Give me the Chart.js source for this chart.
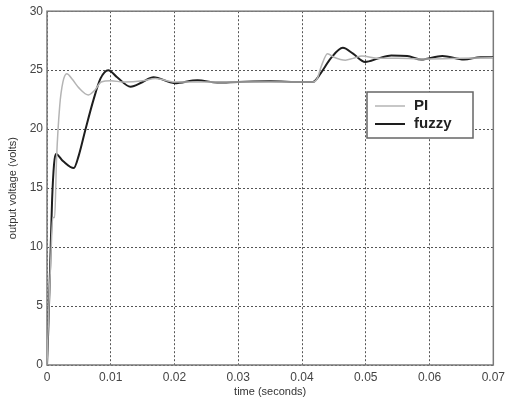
<!DOCTYPE html>
<html>
<head>
<meta charset="utf-8">
<script src="https://cdn.jsdelivr.net/npm/chart.js@4.4.1/dist/chart.umd.min.js"></script>
<style>
  html, body { margin: 0; padding: 0; background: #fff; }
  canvas { display: block; }
</style>
</head>
<body>
<canvas id="chart" width="510" height="406"></canvas>
<script>
// step response samples, time in seconds, output in volts
const piTime = [0, 0.0003, 0.0006, 0.0009, 0.0012, 0.0015, 0.002, 0.0025, 0.0031, 0.004, 0.005, 0.0065, 0.0075, 0.0085, 0.01, 0.012, 0.015, 0.017, 0.02, 0.025, 0.03, 0.035, 0.04, 0.0418, 0.0424, 0.043, 0.044, 0.045, 0.0468, 0.048, 0.0494, 0.052, 0.055, 0.06, 0.065, 0.07];
const piVolt = [0, 5, 9, 12.5, 12.5, 17.5, 22, 24, 24.7, 24.2, 23.5, 22.9, 23.3, 24.0, 24.1, 24.0, 24.1, 24.3, 24.0, 24.0, 24.0, 24.0, 24.0, 24.0, 24.3, 25.3, 26.4, 26.1, 25.85, 26.0, 26.2, 26.0, 26.0, 25.95, 26.0, 26.05];

const fuzzyTime = [0, 0.0002, 0.0005, 0.0008, 0.0011, 0.0014, 0.0025, 0.0042, 0.005, 0.006, 0.0073, 0.0084, 0.0096, 0.011, 0.0131, 0.015, 0.0167, 0.02, 0.0236, 0.0267, 0.03, 0.035, 0.04, 0.0417, 0.043, 0.0445, 0.0464, 0.048, 0.0499, 0.052, 0.054, 0.0565, 0.0587, 0.062, 0.0654, 0.068, 0.07];
const fuzzyVolt = [0, 3, 8.5, 14, 17, 17.9, 17.3, 16.7, 17.8, 19.9, 22.5, 24.3, 25.0, 24.4, 23.6, 24.0, 24.4, 23.9, 24.15, 23.95, 24.0, 24.05, 24.0, 24.0, 24.8, 26.0, 26.9, 26.4, 25.7, 26.0, 26.25, 26.2, 25.9, 26.2, 25.9, 26.1, 26.1];

const xTickLabels = ['0', '0.01', '0.02', '0.03', '0.04', '0.05', '0.06', '0.07'];
const yTickLabels = ['0', '5', '10', '15', '20', '25', '30'];
const seriesNames = ['PI', 'fuzzy'];

const toPoints = (xs, ys) => xs.map((x, i) => ({ x: x, y: ys[i] }));

const FONT = 'Liberation Sans, Arial, Helvetica, sans-serif';

// axes frame, drawn under the curves
const framePlugin = {
  id: 'frame',
  beforeDatasetsDraw(chart) {
    const { ctx, chartArea: a } = chart;
    ctx.save();
    ctx.strokeStyle = '#7a7a7a';
    ctx.lineWidth = 1.5;
    ctx.strokeRect(a.left, a.top, a.right - a.left, a.bottom - a.top);
    ctx.restore();
  }
};

// boxed legend inside the plot
const boxLegend = {
  id: 'boxLegend',
  afterDraw(chart) {
    const ctx = chart.ctx;
    const x = 367, y = 92, w = 106, h = 46;
    ctx.save();
    ctx.fillStyle = '#fff';
    ctx.fillRect(x, y, w, h);
    ctx.strokeStyle = '#666';
    ctx.lineWidth = 1.5;
    ctx.strokeRect(x, y, w, h);
    chart.data.datasets.forEach((ds, i) => {
      const ly = y + 14 + i * 18;
      ctx.strokeStyle = ds.borderColor;
      ctx.lineWidth = ds.borderWidth;
      ctx.beginPath();
      ctx.moveTo(x + 8, ly);
      ctx.lineTo(x + 38, ly);
      ctx.stroke();
      ctx.fillStyle = '#222';
      ctx.font = 'bold 15px ' + FONT;
      ctx.textBaseline = 'middle';
      ctx.fillText(ds.label, x + 47, ly);
    });
    ctx.restore();
  }
};

new Chart(document.getElementById('chart'), {
  type: 'line',
  data: {
    datasets: [{
      label: seriesNames[0],
      data: toPoints(piTime, piVolt),
      borderColor: '#b4b4b4',
      borderWidth: 1.5,
      pointRadius: 0,
      cubicInterpolationMode: 'monotone'
    }, {
      label: seriesNames[1],
      data: toPoints(fuzzyTime, fuzzyVolt),
      borderColor: '#1e1e1e',
      borderWidth: 2,
      pointRadius: 0,
      cubicInterpolationMode: 'monotone'
    }]
  },
  options: {
    responsive: false,
    animation: false,
    devicePixelRatio: 1,
    layout: { padding: { top: 11, right: 11, left: 0, bottom: 0 } },
    plugins: {
      legend: { display: false },
      tooltip: { enabled: false }
    },
    scales: {
      x: {
        type: 'linear',
        min: 0,
        max: 0.07,
        afterFit: s => { s.height = 41; },
        ticks: {
          stepSize: 0.01,
          padding: 5,
          color: '#444',
          font: { family: FONT, size: 12 },
          maxRotation: 0,
          callback: (v, i) => xTickLabels[i]
        },
        grid: { color: '#555', lineWidth: 1, drawTicks: false },
        border: { display: false, dash: [2, 2] },
        title: {
          display: true,
          text: 'time (seconds)',
          color: '#333',
          font: { family: FONT, size: 11 },
          padding: { top: 0, bottom: 7 }
        }
      },
      y: {
        min: 0,
        max: 30,
        afterFit: s => { s.width = 47; },
        ticks: {
          stepSize: 5,
          padding: 4,
          color: '#444',
          font: { family: FONT, size: 12 },
          callback: (v, i) => yTickLabels[i]
        },
        grid: { color: '#555', lineWidth: 1, drawTicks: false },
        border: { display: false, dash: [2, 2] },
        title: {
          display: true,
          text: 'output voltage (volts)',
          color: '#333',
          font: { family: FONT, size: 11 },
          padding: { top: 6, bottom: 0 }
        }
      }
    }
  },
  plugins: [framePlugin, boxLegend]
});
</script>
</body>
</html>
